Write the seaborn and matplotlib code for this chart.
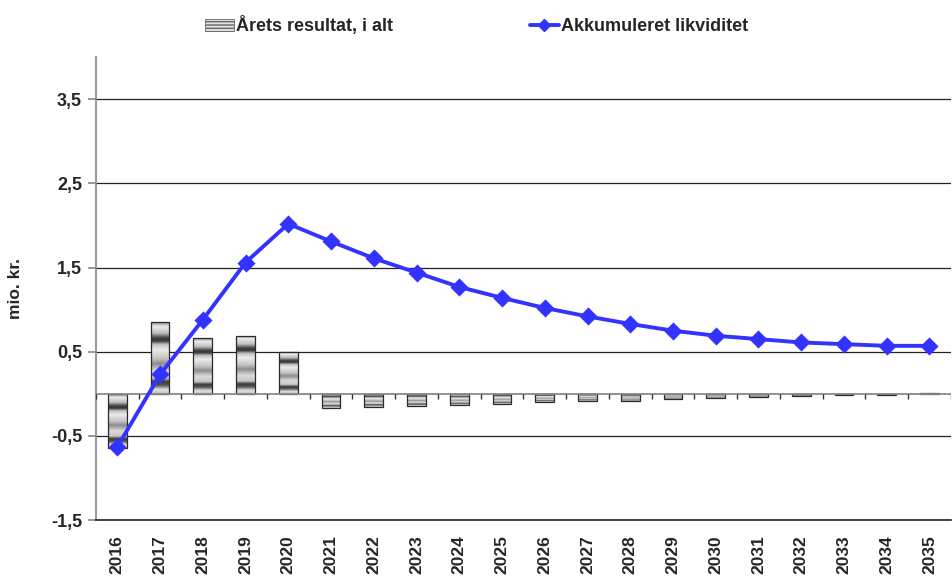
import matplotlib
matplotlib.use("Agg")
import matplotlib.pyplot as plt
import numpy as np
import pandas as pd
import seaborn as sns
from matplotlib.lines import Line2D
from matplotlib.patches import Patch

years = [str(y) for y in range(2016, 2036)]
annual_result = [-0.64, 0.85, 0.66, 0.69, 0.50, -0.17, -0.16, -0.15, -0.13, -0.12,
                 -0.10, -0.09, -0.08, -0.065, -0.05, -0.04, -0.03, -0.02, -0.01, 0.005]
liquidity = [-0.63, 0.23, 0.88, 1.56, 2.02, 1.81, 1.61, 1.44, 1.27, 1.14,
             1.02, 0.92, 0.83, 0.75, 0.69, 0.65, 0.61, 0.59, 0.57, 0.57]
y_ticks = [-1.5, -0.5, 0.5, 1.5, 2.5, 3.5]
y_tick_labels = ["-1,5", "-0,5", "0,5", "1,5", "2,5", "3,5"]

LINE_COLOR = "#3333ff"

sns.set_theme(style="white")
plt.rcParams["font.family"] = ["Liberation Sans", "DejaVu Sans"]
plt.rcParams["font.weight"] = "bold"

df = pd.DataFrame({"year": years, "result": annual_result, "liquidity": liquidity})

fig = plt.figure(figsize=(9.53, 5.8), dpi=100)
ax = fig.add_axes([0.1007, 0.1034, 0.897, 0.798])

sns.barplot(data=df, x="year", y="result", color="white", saturation=1, width=0.44,
            edgecolor="#2a2a2a", linewidth=0.9, ax=ax, zorder=3)

# metallic texture inside each bar (light/dark bands stretched over the bar)
stop_pos = [0.0, 0.06, 0.15, 0.22, 0.26, 0.31, 0.38, 0.50, 0.58, 0.68, 0.78, 0.83, 0.88, 0.94, 1.0]
stop_val = [0.55, 0.92, 0.75, 0.25, 0.22, 0.75, 0.92, 0.78, 0.55, 0.85, 0.78, 0.22, 0.35, 0.88, 0.75]
profile = np.interp(np.linspace(0, 1, 200), stop_pos, stop_val)
texture = np.tile(profile[:, None], (1, 4))
for bar in list(ax.patches):
    x0, w = bar.get_x(), bar.get_width()
    y0, h = bar.get_y(), bar.get_height()
    lo, hi = min(y0, y0 + h), max(y0, y0 + h)
    im = ax.imshow(texture, extent=[x0, x0 + w, lo, hi], origin="upper", cmap="gray",
                   vmin=0, vmax=1, aspect="auto", interpolation="bilinear", zorder=2.5)
    im.set_clip_path(bar)
    bar.set_facecolor("none")

sns.pointplot(data=df, x="year", y="liquidity", color=LINE_COLOR, marker="D",
              markersize=7, linewidth=2.8, errorbar=None, ax=ax, zorder=5)

ax.set_xlim(-0.5, len(years) - 0.5)
ax.set_ylim(-1.5, 4.0)
ax.set_yticks(y_ticks)
ax.set_yticklabels(y_tick_labels, fontsize=13, fontweight="bold")
ax.yaxis.grid(True, color="#222222", linewidth=0.9)
ax.set_axisbelow(True)

# zero line with category separators
ax.axhline(0, color="#8a8a8a", linewidth=1.3, zorder=4)
ax.vlines(np.arange(len(years) + 1) - 0.5, -0.06, 0, color="#333333", linewidth=1, zorder=4)

for side in ["top", "right"]:
    ax.spines[side].set_visible(False)
ax.spines["left"].set_color("#8a8a8a")
ax.spines["bottom"].set_color("#222222")
ax.spines["bottom"].set_linewidth(1.2)

ax.tick_params(axis="y", left=True, length=6, color="#8a8a8a", pad=4)
ax.tick_params(axis="x", bottom=False, labelrotation=90, pad=5)
for lbl in ax.get_xticklabels():
    lbl.set_fontsize(12.5)
    lbl.set_fontweight("bold")

ax.set_xlabel("")
ax.set_ylabel("mio. kr.", fontsize=12.5, fontweight="bold", labelpad=20)

handles = [
    Patch(facecolor="#e0e0e0", edgecolor="#666666", hatch="-----", linewidth=0.6),
    Line2D([], [], color=LINE_COLOR, linewidth=2.8, marker="D", markersize=6),
]
fig.legend(handles, ["Årets resultat, i alt", "Akkumuleret likviditet"], loc="upper center",
           bbox_to_anchor=(0.5, 1.0), ncol=2, frameon=False, columnspacing=7.6,
           handlelength=1.6, handletextpad=0.1, prop={"weight": "bold", "size": 13})

fig.savefig("out.png", dpi=100)
